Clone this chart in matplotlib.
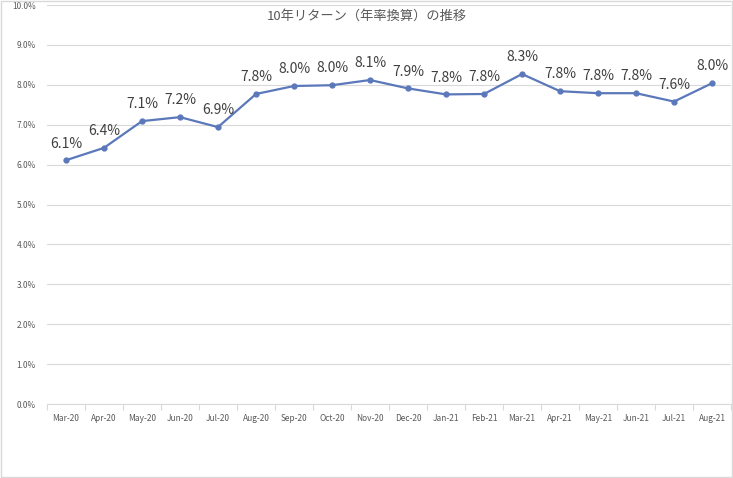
import matplotlib
matplotlib.use("Agg")
import matplotlib.pyplot as plt
from matplotlib.patches import Rectangle
from matplotlib.ticker import FuncFormatter, FixedLocator

plt.rcParams['font.family'] = ['Noto Sans CJK JP', 'DejaVu Sans']

# data
months = ['Mar-20', 'Apr-20', 'May-20', 'Jun-20', 'Jul-20', 'Aug-20', 'Sep-20', 'Oct-20', 'Nov-20',
          'Dec-20', 'Jan-21', 'Feb-21', 'Mar-21', 'Apr-21', 'May-21', 'Jun-21', 'Jul-21', 'Aug-21']
returns = [6.11, 6.42, 7.09, 7.19, 6.94, 7.77, 7.97, 7.99, 8.12,
           7.91, 7.76, 7.77, 8.27, 7.84, 7.79, 7.79, 7.58, 8.04]
title = '10年リターン（年率換算）の推移'

line_color = '#5b78bb'
grid_color = '#d9d9d9'
text_color = '#595959'

fig = plt.figure(figsize=(7.33, 4.78), dpi=100)
ax = fig.add_axes([0.0641, 0.1548, 0.9332, 0.8347])

x = list(range(len(months)))
ax.plot(x, returns, color=line_color, lw=1.6, marker='o', ms=3.5, zorder=3)

for xi, v in zip(x, returns):
    ax.annotate(f'{v:.1f}%', (xi, v), xytext=(0, 7), textcoords='offset points',
                ha='center', va='bottom', fontsize=10, color='#404040')

ax.set_xlim(-0.5, len(months) - 0.5)
ax.set_ylim(0, 10)
ax.set_yticks([i for i in range(11)])
ax.yaxis.set_major_formatter(FuncFormatter(lambda v, p: f'{v:.1f}%'))
ax.tick_params(axis='y', length=0, labelsize=6, labelcolor=text_color, pad=8)
ax.yaxis.grid(True, color=grid_color, lw=0.8)
ax.set_axisbelow(True)

# category labels centred, tick marks at category boundaries
ax.set_xticks(x)
ax.set_xticklabels(months)
ax.tick_params(axis='x', which='major', length=0, labelsize=6, labelcolor=text_color, pad=7)
ax.xaxis.set_minor_locator(FixedLocator([i - 0.5 for i in range(len(months) + 1)]))
ax.tick_params(axis='x', which='minor', length=4, color=grid_color, width=0.8)

for side in ['top', 'right', 'left']:
    ax.spines[side].set_visible(False)
ax.spines['bottom'].set_color(grid_color)
ax.spines['bottom'].set_linewidth(0.8)

fig.text(0.5, 0.965, title, ha='center', va='center', fontsize=9.5, color=text_color)

# light frame around the chart
fig.patches.append(Rectangle((0.001, 0.002), 0.997, 0.996, transform=fig.transFigure,
                             fill=False, edgecolor='#d9d9d9', lw=1))

fig.savefig('out.png', dpi=100)
